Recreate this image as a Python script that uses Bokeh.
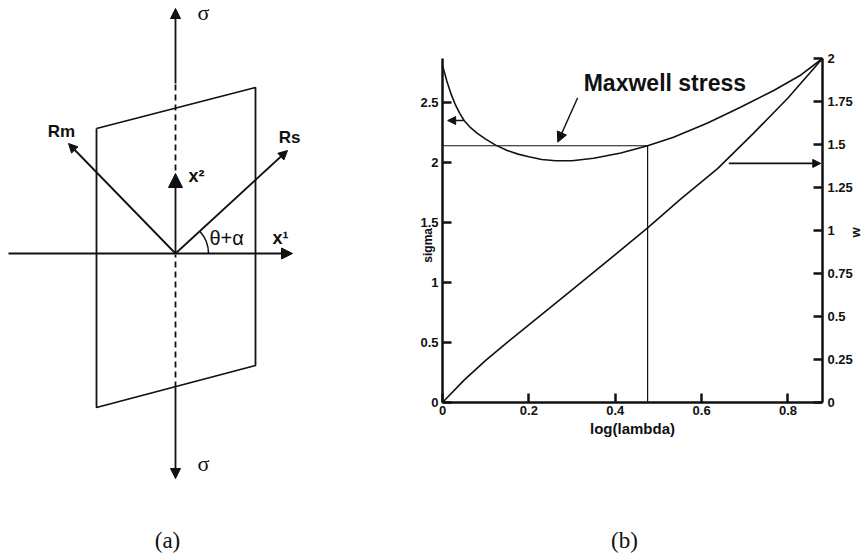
from math import pi, atan2

from bokeh.embed import file_html
from bokeh.models import (Arrow, CustomJSTickFormatter, FixedTicker, Label,
                          LinearAxis, NormalHead, Range1d)
from bokeh.plotting import figure
from bokeh.resources import INLINE

INK = "#111111"
SANS = "Liberation Sans"
SERIF = "Liberation Serif"

# ---------------- panel (b): nominal stress and energy vs log stretch ----------------
log_lambda = [0.0, 0.01, 0.02, 0.03, 0.04, 0.05, 0.065, 0.08, 0.1, 0.123, 0.15, 0.175,
              0.2, 0.23, 0.262, 0.3, 0.35, 0.413, 0.475, 0.535, 0.614, 0.69, 0.767,
              0.83, 0.88]
sigma = [2.81, 2.68, 2.57, 2.48, 2.41, 2.35, 2.29, 2.245, 2.195, 2.145, 2.1, 2.07,
         2.048, 2.025, 2.015, 2.015, 2.035, 2.08, 2.14, 2.21, 2.33, 2.46, 2.6,
         2.73, 2.867]

w_log_lambda = [0.0, 0.05, 0.1, 0.15, 0.2, 0.3, 0.4, 0.475, 0.55, 0.637, 0.72, 0.8, 0.88]
w_energy = [0.0, 0.13, 0.245, 0.35, 0.452, 0.655, 0.86, 1.015, 1.18, 1.36, 1.565, 1.77, 2.0]

maxwell_stress = 2.14
maxwell_log_lambda = 0.475

x_max, sigma_max, w_max = 0.88, 2.867, 2.0
sigma_ticks = [0, 0.5, 1, 1.5, 2, 2.5]
w_ticks = [0, 0.25, 0.5, 0.75, 1, 1.25, 1.5, 1.75, 2]
x_ticks = [0, 0.2, 0.4, 0.6, 0.8]

# ---------------- panel (a): loaded sheet with the two slip directions ----------------
origin = (175, 305)
plate_x = [96, 255, 255, 96, 96]
plate_y = [430, 471, 193, 151, 430]
rm_tip = (68, 415)
rs_tip = (287, 408)
x1_tail, x1_tip = (8, 305), (292, 305)
x2_tip = (175, 385)
top_dash = (388, 475)
top_tip = 550
bottom_dash = (171, 304)
bottom_tip = 80
arc_radius = 33

# canvas and the placement of the stress-strain box on it (y measured upward)
W, H = 863, 558
B_LEFT, B_RIGHT = 442, 822
B_BOTTOM, B_TOP = 156, 500


def span(lo_px, hi_px, lo_val, hi_val, total):
    k = (hi_val - lo_val) / (hi_px - lo_px)
    return Range1d(lo_val - lo_px * k, lo_val + (total - lo_px) * k)


def head(size):
    return NormalHead(size=size, fill_color=INK, line_color=INK, line_width=1)


p = figure(width=W, height=H, x_range=Range1d(0, W), y_range=Range1d(0, H),
           x_axis_type=None, y_axis_type=None, min_border=0,
           output_backend="svg", toolbar_location=None)
p.grid.visible = False
p.outline_line_color = None
p.extra_x_ranges = {"lam": span(B_LEFT, B_RIGHT, 0, x_max, W)}
p.extra_y_ranges = {"sig": span(B_BOTTOM, B_TOP, 0, sigma_max, H),
                    "w": span(B_BOTTOM, B_TOP, 0, w_max, H)}

# ---------- panel (a) ----------
p.line(plate_x, plate_y, line_width=1.8, color=INK)

ox, oy = origin
p.line([ox, ox], list(top_dash), line_width=1.8, color=INK, line_dash="6 4")
p.line([ox, ox], list(bottom_dash), line_width=1.8, color=INK, line_dash="6 4")
p.add_layout(Arrow(x_start=ox, y_start=top_dash[1], x_end=ox, y_end=top_tip,
                   end=head(10), line_width=1.8, line_color=INK))
p.add_layout(Arrow(x_start=ox, y_start=bottom_dash[0], x_end=ox, y_end=bottom_tip,
                   end=head(10), line_width=1.8, line_color=INK))

p.add_layout(Arrow(x_start=x1_tail[0], y_start=x1_tail[1], x_end=x1_tip[0], y_end=x1_tip[1],
                   end=head(11), line_width=1.8, line_color=INK))
p.add_layout(Arrow(x_start=ox, y_start=oy, x_end=x2_tip[0], y_end=x2_tip[1],
                   end=head(14), line_width=1.8, line_color=INK))

for tip in (rm_tip, rs_tip):
    p.add_layout(Arrow(x_start=ox, y_start=oy, x_end=tip[0], y_end=tip[1],
                       end=head(9), line_width=1.8, line_color=INK))

p.arc(x=[ox], y=[oy], radius=arc_radius, start_angle=0,
      end_angle=atan2(rs_tip[1] - oy, rs_tip[0] - ox), line_width=1.5, color=INK)

diagram_labels = [
    ("σ", 203, 546, SERIF, "normal", "22px", "center"),
    ("σ", 203, 95, SERIF, "normal", "22px", "center"),
    ("Rm", 61, 427, SANS, "bold", "17px", "center"),
    ("Rs", 289, 421, SANS, "bold", "17px", "center"),
    ("x²", 188, 383, SANS, "bold", "18px", "left"),
    ("x¹", 272, 321, SANS, "bold", "18px", "left"),
    ("θ+α", 209, 321, SANS, "normal", "20px", "left"),
    ("(a)", 167, 18, SERIF, "normal", "23px", "center"),
    ("(b)", 624, 18, SERIF, "normal", "23px", "center"),
]
for txt, lx, ly, font, style, size, align in diagram_labels:
    p.add_layout(Label(x=lx, y=ly, text=txt, text_font=font, text_font_style=style,
                       text_font_size=size, text_align=align, text_baseline="middle",
                       text_color=INK))

# ---------- panel (b) ----------
ax_bottom = LinearAxis(x_range_name="lam", y_range_name="sig", fixed_location=0,
                       bounds=(0, x_max))
ax_left = LinearAxis(x_range_name="lam", y_range_name="sig", fixed_location=0,
                     bounds=(0, sigma_max))
ax_right = LinearAxis(x_range_name="lam", y_range_name="w", fixed_location=x_max,
                      bounds=(0, w_max))
p.add_layout(ax_bottom, "below")
p.add_layout(ax_left, "left")
p.add_layout(ax_right, "right")


def style_axis(ax, ticks, standoff):
    ax.ticker = FixedTicker(ticks=ticks)
    ax.formatter = CustomJSTickFormatter(code="return String(tick);")
    ax.major_tick_in = 9
    ax.major_tick_out = 0
    ax.major_tick_line_width = 2.5
    ax.major_tick_line_color = INK
    ax.minor_tick_line_color = None
    ax.axis_line_width = 2.5
    ax.axis_line_color = INK
    ax.major_label_text_font = SANS
    ax.major_label_text_font_style = "bold"
    ax.major_label_text_font_size = "13px"
    ax.major_label_text_color = INK
    ax.major_label_standoff = standoff


style_axis(ax_left, sigma_ticks, 4)
style_axis(ax_right, w_ticks, 5)
style_axis(ax_bottom, x_ticks, 3)
ax_bottom.axis_label = "log(lambda)"
ax_bottom.axis_label_text_font = SANS
ax_bottom.axis_label_text_font_style = "bold"
ax_bottom.axis_label_text_font_size = "15px"
ax_bottom.axis_label_standoff = 2
ax_bottom.axis_label_text_color = INK

p.line(log_lambda, sigma, x_range_name="lam", y_range_name="sig", line_width=1.6, color=INK)
p.line(w_log_lambda, w_energy, x_range_name="lam", y_range_name="w", line_width=1.6, color=INK)

# Maxwell construction: equal-area stress level and the stretch where it ends
p.line([0, maxwell_log_lambda], [maxwell_stress, maxwell_stress],
       x_range_name="lam", y_range_name="sig", line_width=1.2, color=INK)
p.line([maxwell_log_lambda, maxwell_log_lambda], [0, maxwell_stress],
       x_range_name="lam", y_range_name="sig", line_width=1.2, color=INK)

p.add_layout(Arrow(x_start=0.313, y_start=2.54, x_end=0.267, y_end=2.17,
                   x_range_name="lam", y_range_name="sig",
                   end=head(10), line_width=1.4, line_color=INK))
p.add_layout(Arrow(x_start=0.049, y_start=2.35, x_end=0.012, y_end=2.35,
                   x_range_name="lam", y_range_name="sig",
                   end=head(8), line_width=1.6, line_color=INK))
p.add_layout(Arrow(x_start=0.663, y_start=1.39, x_end=0.876, y_end=1.39,
                   x_range_name="lam", y_range_name="w",
                   end=head(8), line_width=1.6, line_color=INK))

p.add_layout(Label(x=0.327, y=2.66, text="Maxwell stress", x_range_name="lam",
                   y_range_name="sig", text_font=SANS, text_font_style="bold",
                   text_font_size="23px", text_align="left", text_baseline="middle",
                   text_color=INK))
p.add_layout(Label(x=-0.0325, y=1.31, text="sigma", angle=pi / 2, x_range_name="lam",
                   y_range_name="sig", text_font=SANS, text_font_style="bold",
                   text_font_size="12px", text_align="center", text_baseline="middle",
                   text_color=INK))
p.add_layout(Label(x=0.957, y=1.417, text="w", angle=pi / 2, x_range_name="lam",
                   y_range_name="sig", text_font=SANS, text_font_style="bold",
                   text_font_size="13px", text_align="center", text_baseline="middle",
                   text_color=INK))

open("out.html", "w").write(file_html(p, INLINE))
